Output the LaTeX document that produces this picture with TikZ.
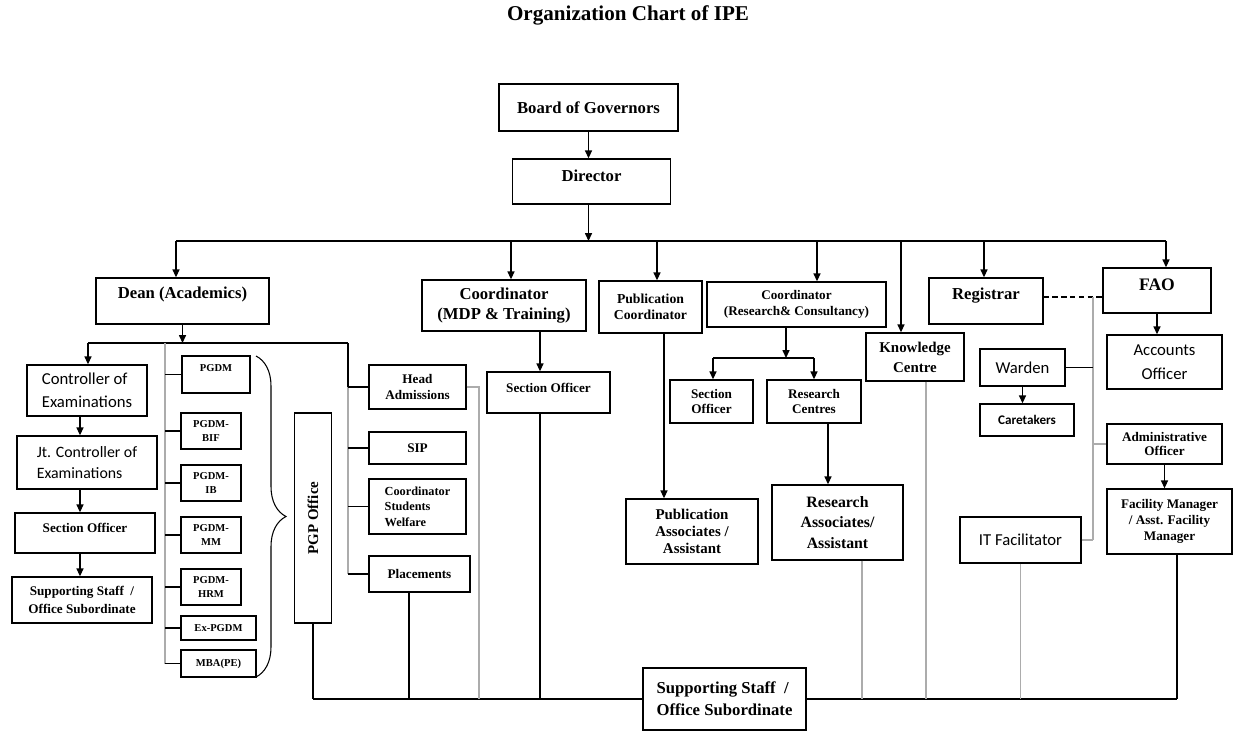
\documentclass[tikz,border=0pt]{standalone}
\usepackage{fontspec}
\setmainfont{Liberation Serif}
\newfontfamily\calfont{Carlito}
\usetikzlibrary{arrows.meta,decorations.pathreplacing}
\newcommand{\fsz}[2]{\fontsize{#1}{#2}\selectfont}

\begin{document}
\begin{tikzpicture}[x=0.02cm, y=-0.02cm,
    office/.style={draw, line width=0.8pt, inner sep=1pt, align=center},
    t95/.style={font=\bfseries\fsz{9.5}{11.5}},
    t85/.style={font=\bfseries\fsz{8.5}{10}},
    t75/.style={font=\bfseries\fsz{7.5}{9}},
    t6/.style={font=\bfseries\fsz{6}{8}},
    c95/.style={font=\calfont\fsz{9.5}{13}},
    link/.style={line width=0.7pt},
    arr/.style={line width=0.7pt, -{Triangle[length=4.5pt, width=4pt]}},
    faint/.style={gray!65, line width=0.6pt}]

    \useasboundingbox (0,0) rectangle (1233,730);

    % title and the two top boxes
    \node[font=\bfseries\fsz{12}{14}] (title) at (628,15) {Organization Chart of IPE};
    \node[office, t95, minimum width=3.58cm, minimum height=0.94cm] (bog) at (588.5,107.5) {Board of Governors};
    \node[office, t95, minimum width=3.16cm, minimum height=0.90cm, text depth=6.5pt] (dir) at (591.5,181.5) {Director};

    % heads below the director
    \node[office, t95, minimum width=3.46cm, minimum height=0.92cm, text depth=9pt] (dean) at (182.5,301) {Dean (Academics)};
    \node[office, font=\bfseries\fsz{9.5}{11.3}, minimum width=3.28cm, minimum height=1.02cm] (mdp) at (504,305.5) {Coordinator\\(MDP \& Training)};
    \node[office, font=\bfseries\fsz{7.8}{9}, minimum width=2.06cm, minimum height=1.04cm] (pubc) at (650.5,307) {Publication\\Coordinator};
    \node[office, font=\bfseries\fsz{7.5}{9}, minimum width=3.58cm, minimum height=0.90cm] (rcc) at (796.5,304.5) {Coordinator\\(Research\& Consultancy)};
    \node[office, font=\bfseries\fsz{8.5}{11.3}, minimum width=1.96cm, minimum height=0.96cm] (kc) at (915,357) {Knowledge\\Centre};
    \node[office, t95, minimum width=2.28cm, minimum height=0.92cm, text depth=8.8pt] (reg) at (986,301) {Registrar};
    \node[office, font=\bfseries\fsz{10}{12}, minimum width=2.16cm, minimum height=0.90cm, text depth=6.2pt] (fao) at (1157,290.5) {FAO};

    % examinations column
    \node[office, c95, align=left, minimum width=2.40cm, minimum height=1.02cm] (coe) at (87,390.5) {Controller of\\Examinations};
    \node[office, font=\calfont\fsz{9}{12}, align=left, minimum width=2.80cm, minimum height=1.06cm] (jt) at (87,462.5) {Jt. Controller of\\Examinations};
    \node[office, t75, minimum width=2.80cm, minimum height=0.80cm, text depth=5.6pt] (so1) at (85,533) {Section Officer};
    \node[office, font=\bfseries\fsz{7.5}{10}, minimum width=2.80cm, minimum height=0.92cm] (ss1) at (82,600) {Supporting Staff~ /\\Office Subordinate};

    % programmes
    \node[office, t6, minimum width=1.36cm, minimum height=0.74cm, text depth=7.4pt] (pgdm) at (216,374.5) {PGDM};
    \node[office, t6, minimum width=1.20cm, minimum height=0.72cm] (bif) at (211,431) {PGDM-\\BIF};
    \node[office, t6, minimum width=1.20cm, minimum height=0.72cm] (ib) at (211,483) {PGDM-\\IB};
    \node[office, t6, minimum width=1.20cm, minimum height=0.72cm] (mm) at (211,535) {PGDM-\\MM};
    \node[office, t6, minimum width=1.20cm, minimum height=0.72cm] (hrm) at (211,587) {PGDM-\\HRM};
    \node[office, t6, minimum width=1.50cm, minimum height=0.48cm] (expg) at (218.5,628) {Ex-PGDM};
    \node[office, t6, minimum width=1.50cm, minimum height=0.54cm] (mba) at (218.5,663.5) {MBA(PE)};
    \node[office, t85, minimum width=0.74cm, minimum height=4.20cm] (pgp) at (313,518) {\rotatebox{90}{PGP Office}};

    % student affairs
    \node[office, t75, minimum width=1.94cm, minimum height=0.88cm] (ha) at (417.5,387) {Head\\Admissions};
    \node[office, t75, minimum width=1.94cm, minimum height=0.64cm] (sip) at (417.5,448) {SIP};
    \node[office, font=\bfseries\fsz{7}{8.8}, align=left, minimum width=1.94cm, minimum height=1.10cm] (csw) at (417.5,506.5) {Coordinator\\Students\\Welfare};
    \node[office, t75, minimum width=2.02cm, minimum height=0.72cm] (plac) at (419.5,574) {Placements};
    \node[office, t75, minimum width=2.46cm, minimum height=0.82cm, text depth=5pt] (so3) at (548.5,392.5) {Section Officer};

    % research and publication
    \node[office, t75, minimum width=1.66cm, minimum height=0.86cm] (so2) at (711.5,401.5) {Section\\Officer};
    \node[office, t75, minimum width=1.88cm, minimum height=0.86cm] (rc) at (814,401.5) {Research\\Centres};
    \node[office, font=\bfseries\fsz{8.5}{9.8}, minimum width=2.64cm, minimum height=1.30cm] (puba) at (692,531.5) {Publication\\Associates /\\Assistant};
    \node[office, font=\bfseries\fsz{9}{11.6}, minimum width=2.62cm, minimum height=1.50cm] (ra) at (837.5,522.5) {Research\\Associates/\\Assistant};

    % administration
    \node[office, font=\calfont\fsz{9.5}{13.6}, minimum width=2.30cm, minimum height=1.08cm] (acc) at (1164.5,362) {Accounts\\Officer};
    \node[office, c95, minimum width=1.70cm, minimum height=0.74cm] (warden) at (1022.5,367.5) {Warden};
    \node[office, font=\calfont\bfseries\fsz{7.5}{9}, minimum width=1.88cm, minimum height=0.64cm] (care) at (1027,420) {Caretakers};
    \node[office, font=\bfseries\fsz{7.5}{8.5}, minimum width=2.30cm, minimum height=0.80cm] (adm) at (1164.5,444) {Administrative\\Officer};
    \node[office, t75, minimum width=2.50cm, minimum height=1.30cm] (fm) at (1169.5,521.5) {Facility Manager\\/ Asst. Facility\\Manager};
    \node[office, c95, minimum width=2.42cm, minimum height=0.92cm] (it) at (1020.5,540) {IT Facilitator};

    % common staff at the bottom
    \node[office, font=\bfseries\fsz{9.5}{12.5}, align=left, fill=white, minimum width=3.26cm, minimum height=1.24cm] (ss2) at (724.5,699) {Supporting Staff~ /\\Office Subordinate};

    % director's bus
    \coordinate (busL) at (176,241);
    \coordinate (dmdp) at (511,241);
    \coordinate (dpub) at (657,241);
    \coordinate (drcc) at (817,241);
    \coordinate (dkc) at (901,241);
    \coordinate (dreg) at (984,241);
    \coordinate (busR) at (1166,241);

    \draw[arr] (bog.south) -- (bog.south |- dir.north);
    \draw[arr] (bog.south |- dir.south) -- (bog.south |- busL);
    \draw[link] (busL) -- (busR);
    \draw[arr] (busL) -- (busL |- dean.north);
    \draw[arr] (dmdp) -- (dmdp |- mdp.north);
    \draw[arr] (dpub) -- (dpub |- pubc.north);
    \draw[arr] (drcc) -- (drcc |- rcc.north);
    \draw[arr] (dkc) -- (dkc |- kc.north);
    \draw[arr] (dreg) -- (dreg |- reg.north);
    \draw[arr] (busR) -- (busR |- fao.north);

    % dean's bus
    \coordinate (dbL) at (88,343);
    \coordinate (dbR) at (348,343);
    \coordinate (pg) at (165,343);
    \coordinate (lx) at (80,0);

    \draw[link] (dbL) -- (dbR);
    \draw[arr] (dean.south) -- (dean.south |- dbL);
    \draw[arr] (dbL) -- (dbL |- coe.north);
    \draw[arr] (lx |- coe.south) -- (lx |- jt.north);
    \draw[arr] (lx |- jt.south) -- (lx |- so1.north);
    \draw[arr] (lx |- so1.south) -- (lx |- ss1.north);

    \draw[faint] (pg) -- (pg |- mba.west);
    \draw[link] (pg |- pgdm.west) -- (pgdm.west);
    \draw[link] (pg |- bif.west) -- (bif.west);
    \draw[link] (pg |- ib.west) -- (ib.west);
    \draw[link] (pg |- mm.west) -- (mm.west);
    \draw[link] (pg |- hrm.west) -- (hrm.west);
    \draw[link] (pg |- expg.west) -- (expg.west);
    \draw[link] (pg |- mba.west) -- (mba.west);

    % brace round the programmes
    \coordinate (brT) at (256,356);
    \coordinate (brB) at (256,677);
    \draw[line width=0.6pt, decorate, decoration={brace, amplitude=0.6cm}] (brT) -- (brB);

    \draw[link] (dbR) -- (dbR |- ha.west);
    \draw[faint] (dbR |- ha.west) -- (dbR |- plac.west);
    \draw[link] (dbR |- ha.west) -- (ha.west);
    \draw[link] (dbR |- sip.west) -- (sip.west);
    \draw[link] (dbR |- csw.west) -- (csw.west);
    \draw[link] (dbR |- plac.west) -- (plac.west);

    % research coordinator's bus
    \coordinate (xr) at (786,0);
    \coordinate (rbL) at (713,358);
    \coordinate (rbR) at (814,358);
    \coordinate (xrc) at (828,0);
    \coordinate (xpa) at (664,0);
    \coordinate (xso) at (540,0);

    \draw[arr] (xr |- rcc.south) -- (xr |- rbL);
    \draw[link] (rbL) -- (rbR);
    \draw[arr] (rbL) -- (rbL |- so2.north);
    \draw[arr] (rbR) -- (rbR |- rc.north);
    \draw[arr] (xrc |- rc.south) -- (xrc |- ra.north);
    \draw[arr] (xpa |- pubc.south) -- (xpa |- puba.north);
    \draw[arr] (xso |- mdp.south) -- (xso |- so3.north);

    % registrar and FAO side
    \coordinate (dsh) at (1093,297);
    \draw[link, dash pattern=on 3pt off 2pt] (dsh -| reg.east) -- (dsh -| fao.west);
    \draw[faint] (dsh) -- (dsh |- it.east);
    \draw[link] (warden.east) -- (warden.east -| dsh);
    \draw[faint] (dsh |- adm.west) -- (adm.west);
    \draw[faint] (it.east) -- (it.east -| dsh);
    \draw[arr] (fao.south) -- (fao.south |- acc.north);
    \draw[arr] (warden.south) -- (warden.south |- care.north);
    \draw[arr] (adm.south) -- (adm.south |- fm.north);

    % bottom bus to the supporting staff
    \coordinate (sbL) at (313,699);
    \coordinate (sbR) at (1177,699);
    \coordinate (hx) at (479,0);
    \coordinate (xpl) at (409,0);
    \coordinate (xra) at (862,0);
    \coordinate (xkc) at (926,0);

    \draw[link] (sbL) -- (ss2.west);
    \draw[link] (ss2.east) -- (sbR);
    \draw[link] (pgp.south) -- (pgp.south |- sbL);
    \draw[link] (xpl |- plac.south) -- (xpl |- sbL);
    \draw[faint] (ha.east) -- (hx |- ha.east) -- (hx |- sbL);
    \draw[link] (xso |- so3.south) -- (xso |- sbL);
    \draw[faint] (xra |- ra.south) -- (xra |- sbL);
    \draw[faint] (xkc |- kc.south) -- (xkc |- sbL);
    \draw[faint] (it.south) -- (it.south |- sbL);
    \draw[link] (sbR |- fm.south) -- (sbR);

\end{tikzpicture}
\end{document}
